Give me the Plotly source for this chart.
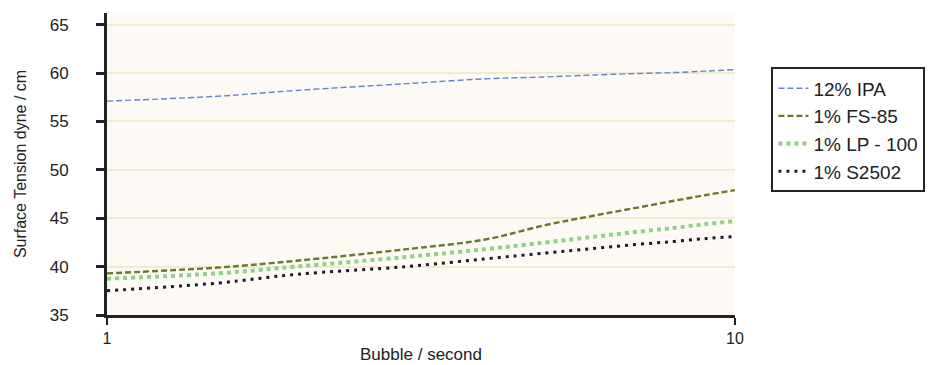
import plotly.graph_objects as go

bubble_rate = [1, 1.5, 2, 3, 4, 5, 6, 7, 8, 9, 10]
ipa_12 = [57.1, 57.6, 58.2, 58.9, 59.4, 59.6, 59.8, 59.95, 60.05, 60.2, 60.35]
fs85_1 = [39.3, 39.9, 40.6, 41.8, 42.8, 44.3, 45.3, 46.1, 46.8, 47.4, 47.9]
lp100_1 = [38.75, 39.3, 40.0, 41.0, 41.8, 42.5, 43.1, 43.6, 44.0, 44.4, 44.7]
s2502_1 = [37.5, 38.3, 39.2, 40.0, 40.8, 41.4, 41.9, 42.3, 42.6, 42.9, 43.1]

series_names = ["12% IPA", "1% FS-85", "1% LP - 100", "1% S2502"]
y_ticks = [35, 40, 45, 50, 55, 60, 65]
x_ticks = [1, 10]

fig = go.Figure()
fig.add_trace(go.Scatter(x=bubble_rate, y=ipa_12, name=series_names[0], mode="lines",
                         line=dict(color="#5f86c8", width=1.4, dash="6px,3px", shape="spline")))
fig.add_trace(go.Scatter(x=bubble_rate, y=fs85_1, name=series_names[1], mode="lines",
                         line=dict(color="#657a2c", width=2.4, dash="6px,3px", shape="spline")))
fig.add_trace(go.Scatter(x=bubble_rate, y=lp100_1, name=series_names[2], mode="lines",
                         line=dict(color="#93cf85", width=4, dash="4px,4px", shape="spline")))
fig.add_trace(go.Scatter(x=bubble_rate, y=s2502_1, name=series_names[3], mode="lines",
                         line=dict(color="#1c1c28", width=3, dash="3px,5px", shape="spline")))

fig.update_layout(
    width=948, height=365,
    margin=dict(l=107, r=213, t=13, b=50, autoexpand=False),
    paper_bgcolor="white",
    plot_bgcolor="#fdf9f4",
    font=dict(family="Liberation Sans, Arial, sans-serif", color="#222"),
    legend=dict(x=1.058, y=0.82, xanchor="left", yanchor="top",
                bordercolor="#222", borderwidth=2, bgcolor="white",
                font=dict(size=19, color="#222"), itemwidth=30,
                tracegroupgap=0),
    showlegend=True,
)
fig.update_xaxes(type="log", range=[0, 1], tickvals=x_ticks, ticktext=[str(v) for v in x_ticks],
                 showline=True, linecolor="#222", linewidth=3, showgrid=False,
                 ticks="outside", ticklen=7, tickwidth=2, tickcolor="#222",
                 tickfont=dict(size=16, color="#222"), zeroline=False,
                 title=dict(text="Bubble / second", font=dict(size=17, color="#222"), standoff=2))
fig.update_yaxes(range=[35, 66.2], tickvals=y_ticks,
                 showline=True, linecolor="#222", linewidth=3,
                 showgrid=True, gridcolor="#f1ebcf", gridwidth=2,
                 ticks="outside", ticklen=8, tickwidth=3, tickcolor="#222",
                 ticklabelstandoff=24,
                 tickfont=dict(size=17, color="#222"), zeroline=False,
                 title=dict(text="Surface Tension dyne / cm", font=dict(size=16, color="#222"), standoff=20))

fig.write_html("out.html")
